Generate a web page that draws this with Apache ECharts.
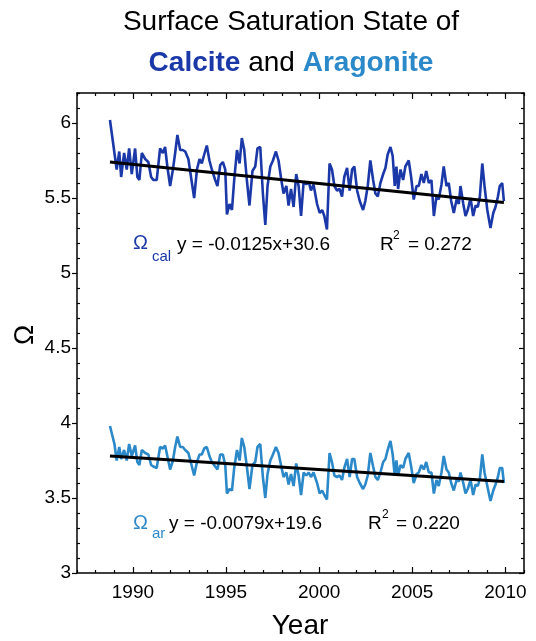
<!DOCTYPE html>
<html>
<head>
<meta charset="utf-8">
<script src="https://cdn.jsdelivr.net/npm/echarts@6/dist/echarts.min.js"></script>
<style>
  html, body { margin: 0; padding: 0; background: #fff; }
  #chart { width: 536px; height: 641px; }
</style>
</head>
<body>
<div id="chart"></div>
<script>
  // 时间（年，小数）
  var years = [
    1988.77, 1989.01, 1989.13, 1989.27, 1989.37, 1989.53, 1989.67, 1989.80, 1989.94, 1990.12,
    1990.24, 1990.35, 1990.48, 1990.66, 1990.83, 1990.98, 1991.10, 1991.28, 1991.46, 1991.61,
    1991.73, 1991.85, 1992.00, 1992.15, 1992.27, 1992.39, 1992.54, 1992.68, 1992.81, 1992.98,
    1993.17, 1993.29, 1993.44, 1993.58, 1993.70, 1993.83, 1993.97, 1994.11, 1994.24, 1994.42,
    1994.54, 1994.69, 1994.83, 1994.96, 1995.05, 1995.19, 1995.32, 1995.44, 1995.59, 1995.73,
    1995.85, 1995.98, 1996.12, 1996.26, 1996.42, 1996.57, 1996.69, 1996.84, 1996.98, 1997.11,
    1997.23, 1997.38, 1997.52, 1997.68, 1997.82, 1997.97, 1998.09, 1998.24, 1998.36, 1998.49,
    1998.63, 1998.77, 1998.90, 1999.03, 1999.17, 1999.31, 1999.44, 1999.56, 1999.70, 1999.89,
    2000.03, 2000.16, 2000.28, 2000.42, 2000.56, 2000.69, 2000.82, 2000.96, 2001.10, 2001.23,
    2001.35, 2001.50, 2001.64, 2001.77, 2001.89, 2002.04, 2002.18, 2002.36, 2002.48, 2002.61,
    2002.75, 2002.90, 2003.02, 2003.15, 2003.29, 2003.44, 2003.56, 2003.68, 2003.83, 2003.95,
    2004.06, 2004.15, 2004.24, 2004.37, 2004.51, 2004.63, 2004.81, 2004.94, 2005.08, 2005.23,
    2005.35, 2005.49, 2005.62, 2005.75, 2005.89, 2006.03, 2006.16, 2006.30, 2006.42, 2006.57,
    2006.69, 2006.84, 2006.96, 2007.09, 2007.23, 2007.38, 2007.50, 2007.59, 2007.74, 2007.86,
    2007.98, 2008.13, 2008.27, 2008.40, 2008.52, 2008.63, 2008.76, 2008.88, 2009.03, 2009.20,
    2009.35, 2009.47, 2009.60, 2009.70, 2009.83, 2009.92
  ];

  // 方解石饱和度
  var calcite = [
    6.02, 5.80, 5.69, 5.81, 5.64, 5.80, 5.69, 5.83, 5.66, 5.83,
    5.64, 5.62, 5.80, 5.76, 5.74, 5.64, 5.62, 5.62, 5.83, 5.80,
    5.84, 5.71, 5.58, 5.69, 5.80, 5.92, 5.82, 5.82, 5.81, 5.76,
    5.60, 5.50, 5.69, 5.76, 5.73, 5.79, 5.85, 5.75, 5.69, 5.62,
    5.58, 5.72, 5.74, 5.69, 5.39, 5.46, 5.42, 5.62, 5.82, 5.73,
    5.90, 5.82, 5.62, 5.45, 5.68, 5.71, 5.83, 5.84, 5.53, 5.32,
    5.58, 5.71, 5.75, 5.81, 5.75, 5.62, 5.53, 5.58, 5.45, 5.56,
    5.44, 5.66, 5.58, 5.38, 5.61, 5.59, 5.61, 5.55, 5.59, 5.46,
    5.40, 5.42, 5.38, 5.29, 5.73, 5.69, 5.58, 5.55, 5.56, 5.51,
    5.64, 5.70, 5.55, 5.69, 5.71, 5.55, 5.48, 5.42, 5.48, 5.58,
    5.75, 5.62, 5.53, 5.51, 5.60, 5.66, 5.70, 5.79, 5.84, 5.78,
    5.58, 5.71, 5.56, 5.69, 5.62, 5.71, 5.75, 5.64, 5.49, 5.58,
    5.58, 5.66, 5.60, 5.68, 5.60, 5.62, 5.38, 5.51, 5.49, 5.59,
    5.71, 5.58, 5.60, 5.48, 5.40, 5.49, 5.46, 5.58, 5.46, 5.38,
    5.42, 5.50, 5.38, 5.45, 5.44, 5.51, 5.73, 5.58, 5.42, 5.30,
    5.40, 5.44, 5.51, 5.58, 5.60, 5.48
  ];

  // 文石饱和度
  var aragonite = [
    3.98, 3.86, 3.75, 3.84, 3.76, 3.82, 3.75, 3.86, 3.78, 3.85,
    3.74, 3.72, 3.82, 3.80, 3.79, 3.72, 3.71, 3.70, 3.84, 3.83,
    3.85, 3.78, 3.69, 3.75, 3.84, 3.91, 3.84, 3.84, 3.82, 3.80,
    3.71, 3.65, 3.74, 3.79, 3.79, 3.83, 3.84, 3.78, 3.74, 3.71,
    3.69, 3.79, 3.79, 3.72, 3.53, 3.56, 3.55, 3.70, 3.82, 3.75,
    3.90, 3.84, 3.71, 3.56, 3.72, 3.74, 3.84, 3.86, 3.64, 3.50,
    3.66, 3.75, 3.79, 3.84, 3.80, 3.71, 3.64, 3.67, 3.59, 3.66,
    3.58, 3.73, 3.65, 3.52, 3.67, 3.65, 3.67, 3.64, 3.67, 3.60,
    3.53, 3.55, 3.52, 3.49, 3.80, 3.74, 3.65, 3.64, 3.65, 3.62,
    3.70, 3.76, 3.64, 3.76, 3.76, 3.64, 3.60, 3.56, 3.59, 3.65,
    3.80, 3.71, 3.64, 3.62, 3.67, 3.74, 3.76, 3.82, 3.88, 3.79,
    3.65, 3.75, 3.65, 3.72, 3.70, 3.76, 3.80, 3.71, 3.60, 3.66,
    3.67, 3.72, 3.69, 3.74, 3.67, 3.67, 3.53, 3.62, 3.58, 3.67,
    3.78, 3.69, 3.67, 3.60, 3.55, 3.62, 3.61, 3.67, 3.60, 3.53,
    3.56, 3.62, 3.52, 3.59, 3.58, 3.63, 3.79, 3.67, 3.58, 3.48,
    3.55, 3.59, 3.64, 3.70, 3.70, 3.60
  ];

  // 趋势线端点
  var trendYears = [1988.77, 2009.92];
  var calTrend = [5.74, 5.47];
  var arTrend = [3.78, 3.61];

  // 刻度
  var xMajor = [1990, 1995, 2000, 2005, 2010];
  var yMajor = [3, 3.5, 4, 4.5, 5, 5.5, 6];
  var xMinor = [];
  for (var yr = 1987; yr <= 2011; yr++) {
    if (xMajor.indexOf(yr) < 0) xMinor.push(yr);
  }
  var yMinor = [];
  for (var k = 31; k <= 62; k++) {
    if (k % 5 !== 0) yMinor.push(k / 10);
  }

  var CAL_COLOR = '#1b38a8';
  var AR_COLOR = '#2b89c9';
  var FONT = '"Liberation Sans", Arial, Helvetica, sans-serif';

  function pairs(xs, ys) {
    var out = [];
    for (var i = 0; i < xs.length; i++) out.push([xs[i], ys[i]]);
    return out;
  }

  function xAx(pos, ticks, len, showLine, labels) {
    return {
      type: 'value', min: 1987, max: 2011, position: pos,
      axisLine: { show: showLine, onZero: false, lineStyle: { color: '#000', width: 1.5 } },
      axisTick: { show: true, inside: true, length: len, customValues: ticks, lineStyle: { color: '#000', width: 1.2 } },
      axisLabel: labels ? {
        show: true, customValues: xMajor, color: '#000', fontSize: 19, fontFamily: FONT, margin: 10,
        formatter: function (v) { return String(v); }
      } : { show: false },
      splitLine: { show: false }
    };
  }

  function yAx(pos, ticks, len, inside, showLine, labels) {
    return {
      type: 'value', min: 3, max: 6.2, position: pos,
      axisLine: { show: showLine, onZero: false, lineStyle: { color: '#000', width: 1.5 } },
      axisTick: { show: true, inside: inside, length: len, customValues: ticks, lineStyle: { color: '#000', width: 1.2 } },
      axisLabel: labels ? {
        show: true, customValues: yMajor, color: '#000', fontSize: 19, fontFamily: FONT, margin: 6,
        formatter: function (v) { return String(v); }
      } : { show: false },
      splitLine: { show: false }
    };
  }

  var chart = echarts.init(document.getElementById('chart'), null, { renderer: 'canvas' });

  var option = {
    backgroundColor: '#fff',
    animation: false,
    grid: { left: 77, right: 12, top: 93, bottom: 68, containLabel: false },
    xAxis: [
      xAx('bottom', xMajor, 6, true, true),
      xAx('bottom', xMinor, 3, false, false),
      xAx('top', xMajor, 6, true, false),
      xAx('top', xMinor, 3, false, false)
    ],
    yAxis: [
      yAx('left', yMajor, 5, false, true, true),
      yAx('left', yMinor, 3, true, false, false),
      yAx('right', yMajor, 5, true, true, false),
      yAx('right', yMinor, 3, true, false, false)
    ],
    series: [
      {
        name: 'calcite', type: 'line', xAxisIndex: 0, yAxisIndex: 0,
        data: pairs(years, calcite), showSymbol: false, symbol: 'none',
        lineStyle: { color: CAL_COLOR, width: 2.6 }, z: 2
      },
      {
        name: 'aragonite', type: 'line', xAxisIndex: 0, yAxisIndex: 0,
        data: pairs(years, aragonite), showSymbol: false, symbol: 'none',
        lineStyle: { color: AR_COLOR, width: 2.6 }, z: 2
      },
      {
        name: 'calTrend', type: 'line', xAxisIndex: 0, yAxisIndex: 0,
        data: pairs(trendYears, calTrend), showSymbol: false, symbol: 'none',
        lineStyle: { color: '#000', width: 3 }, z: 3
      },
      {
        name: 'arTrend', type: 'line', xAxisIndex: 0, yAxisIndex: 0,
        data: pairs(trendYears, arTrend), showSymbol: false, symbol: 'none',
        lineStyle: { color: '#000', width: 3 }, z: 3
      }
    ],
    graphic: [
      // 标题
      {
        type: 'text', x: 291, y: 22,
        style: { text: 'Surface Saturation State of', font: '28px ' + FONT, fill: '#000',
          align: 'center', verticalAlign: 'middle', textAlign: 'center', textVerticalAlign: 'middle' }
      },
      {
        type: 'text', x: 291, y: 63,
        style: {
          text: '{c|Calcite}{a| and }{r|Aragonite}',
          align: 'center', verticalAlign: 'middle', textAlign: 'center', textVerticalAlign: 'middle',
          rich: {
            c: { fontSize: 28, fontWeight: 'bold', fontFamily: FONT, fill: CAL_COLOR, color: CAL_COLOR },
            a: { fontSize: 28, fontFamily: FONT, fill: '#000', color: '#000' },
            r: { fontSize: 28, fontWeight: 'bold', fontFamily: FONT, fill: AR_COLOR, color: AR_COLOR }
          }
        }
      },
      // Y 轴标题
      {
        type: 'text', x: 26, y: 335, rotation: Math.PI / 2,
        style: { text: 'Ω', font: '27px ' + FONT, fill: '#000',
          align: 'center', verticalAlign: 'middle', textAlign: 'center', textVerticalAlign: 'middle' }
      },
      // X 轴标题
      {
        type: 'text', x: 300, y: 626,
        style: { text: 'Year', font: '28px ' + FONT, fill: '#000',
          align: 'center', verticalAlign: 'middle', textAlign: 'center', textVerticalAlign: 'middle' }
      },
      // 方解石回归
      { type: 'text', x: 133, y: 243, style: { text: 'Ω', font: '20px ' + FONT, fill: CAL_COLOR, verticalAlign: 'middle', textVerticalAlign: 'middle' } },
      { type: 'text', x: 152, y: 257, style: { text: 'cal', font: '15px ' + FONT, fill: CAL_COLOR, verticalAlign: 'middle', textVerticalAlign: 'middle' } },
      { type: 'text', x: 177, y: 245, style: { text: 'y = -0.0125x+30.6', font: '19px ' + FONT, fill: '#000', verticalAlign: 'middle', textVerticalAlign: 'middle' } },
      { type: 'text', x: 380, y: 245, style: { text: 'R', font: '19px ' + FONT, fill: '#000', verticalAlign: 'middle', textVerticalAlign: 'middle' } },
      { type: 'text', x: 393, y: 236, style: { text: '2', font: '12px ' + FONT, fill: '#000', verticalAlign: 'middle', textVerticalAlign: 'middle' } },
      { type: 'text', x: 408, y: 245, style: { text: '= 0.272', font: '19px ' + FONT, fill: '#000', verticalAlign: 'middle', textVerticalAlign: 'middle' } },
      // 文石回归
      { type: 'text', x: 133, y: 523, style: { text: 'Ω', font: '20px ' + FONT, fill: AR_COLOR, verticalAlign: 'middle', textVerticalAlign: 'middle' } },
      { type: 'text', x: 152, y: 534, style: { text: 'ar', font: '15px ' + FONT, fill: AR_COLOR, verticalAlign: 'middle', textVerticalAlign: 'middle' } },
      { type: 'text', x: 169, y: 524, style: { text: 'y = -0.0079x+19.6', font: '19px ' + FONT, fill: '#000', verticalAlign: 'middle', textVerticalAlign: 'middle' } },
      { type: 'text', x: 368, y: 524, style: { text: 'R', font: '19px ' + FONT, fill: '#000', verticalAlign: 'middle', textVerticalAlign: 'middle' } },
      { type: 'text', x: 382, y: 515, style: { text: '2', font: '12px ' + FONT, fill: '#000', verticalAlign: 'middle', textVerticalAlign: 'middle' } },
      { type: 'text', x: 396, y: 524, style: { text: '= 0.220', font: '19px ' + FONT, fill: '#000', verticalAlign: 'middle', textVerticalAlign: 'middle' } }
    ]
  };

  chart.setOption(option);
</script>
</body>
</html>
